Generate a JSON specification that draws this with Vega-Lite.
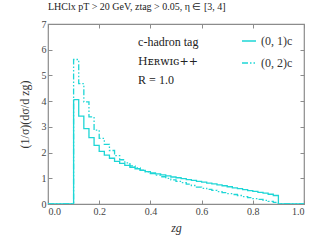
{
  "$schema": "https://vega.github.io/schema/vega-lite/v6.json",
  "width": 256,
  "height": 180,
  "autosize": {"type": "none"},
  "padding": {"left": 48, "top": 24, "right": 16, "bottom": 36},
  "background": "white",
  "title": {"text": "LHClx pT > 20 GeV,  ztag > 0.05,  η ∈ [3, 4]", "anchor": "start", "frame": "group", "font": "Liberation Serif", "fontSize": 10, "fontWeight": "normal", "color": "#222", "offset": 7},
  "config": {
    "view": {"stroke": "#8c8c8c", "strokeWidth": 1.2},
    "axis": {"domain": false, "grid": false, "tickColor": "#8c8c8c", "tickSize": -4, "labelFont": "Liberation Serif", "labelFontSize": 10, "labelColor": "#444", "titleFont": "Liberation Serif", "titleFontWeight": "normal", "titleColor": "#333", "titleFontSize": 12}
  },
  "data": {"values": [
    {"z":0.0,"v":0,"s":"(0, 1)c"},{"z":0.10,"v":4.06,"s":"(0, 1)c"},{"z":0.12,"v":3.42,"s":"(0, 1)c"},{"z":0.14,"v":2.93,"s":"(0, 1)c"},{"z":0.16,"v":2.58,"s":"(0, 1)c"},{"z":0.18,"v":2.28,"s":"(0, 1)c"},{"z":0.20,"v":2.05,"s":"(0, 1)c"},{"z":0.22,"v":1.90,"s":"(0, 1)c"},{"z":0.24,"v":1.78,"s":"(0, 1)c"},{"z":0.26,"v":1.66,"s":"(0, 1)c"},{"z":0.28,"v":1.58,"s":"(0, 1)c"},{"z":0.30,"v":1.50,"s":"(0, 1)c"},{"z":0.32,"v":1.43,"s":"(0, 1)c"},{"z":0.34,"v":1.37,"s":"(0, 1)c"},{"z":0.36,"v":1.31,"s":"(0, 1)c"},{"z":0.38,"v":1.26,"s":"(0, 1)c"},{"z":0.40,"v":1.21,"s":"(0, 1)c"},{"z":0.42,"v":1.17,"s":"(0, 1)c"},{"z":0.44,"v":1.13,"s":"(0, 1)c"},{"z":0.46,"v":1.09,"s":"(0, 1)c"},{"z":0.48,"v":1.05,"s":"(0, 1)c"},{"z":0.50,"v":1.02,"s":"(0, 1)c"},{"z":0.52,"v":0.99,"s":"(0, 1)c"},{"z":0.54,"v":0.95,"s":"(0, 1)c"},{"z":0.56,"v":0.92,"s":"(0, 1)c"},{"z":0.58,"v":0.88,"s":"(0, 1)c"},{"z":0.60,"v":0.85,"s":"(0, 1)c"},{"z":0.62,"v":0.81,"s":"(0, 1)c"},{"z":0.64,"v":0.78,"s":"(0, 1)c"},{"z":0.66,"v":0.74,"s":"(0, 1)c"},{"z":0.68,"v":0.71,"s":"(0, 1)c"},{"z":0.70,"v":0.67,"s":"(0, 1)c"},{"z":0.72,"v":0.63,"s":"(0, 1)c"},{"z":0.74,"v":0.60,"s":"(0, 1)c"},{"z":0.76,"v":0.56,"s":"(0, 1)c"},{"z":0.78,"v":0.52,"s":"(0, 1)c"},{"z":0.80,"v":0.49,"s":"(0, 1)c"},{"z":0.82,"v":0.45,"s":"(0, 1)c"},{"z":0.84,"v":0.42,"s":"(0, 1)c"},{"z":0.86,"v":0.38,"s":"(0, 1)c"},{"z":0.88,"v":0.33,"s":"(0, 1)c"},{"z":0.90,"v":0,"s":"(0, 1)c"},{"z":1.0,"v":0,"s":"(0, 1)c"},
    {"z":0.0,"v":0,"s":"(0, 2)c"},{"z":0.10,"v":5.62,"s":"(0, 2)c"},{"z":0.12,"v":4.68,"s":"(0, 2)c"},{"z":0.14,"v":3.97,"s":"(0, 2)c"},{"z":0.16,"v":3.39,"s":"(0, 2)c"},{"z":0.18,"v":2.87,"s":"(0, 2)c"},{"z":0.20,"v":2.55,"s":"(0, 2)c"},{"z":0.22,"v":2.32,"s":"(0, 2)c"},{"z":0.24,"v":2.08,"s":"(0, 2)c"},{"z":0.26,"v":1.88,"s":"(0, 2)c"},{"z":0.28,"v":1.72,"s":"(0, 2)c"},{"z":0.30,"v":1.60,"s":"(0, 2)c"},{"z":0.32,"v":1.48,"s":"(0, 2)c"},{"z":0.34,"v":1.40,"s":"(0, 2)c"},{"z":0.36,"v":1.32,"s":"(0, 2)c"},{"z":0.38,"v":1.25,"s":"(0, 2)c"},{"z":0.40,"v":1.18,"s":"(0, 2)c"},{"z":0.42,"v":1.12,"s":"(0, 2)c"},{"z":0.44,"v":1.06,"s":"(0, 2)c"},{"z":0.46,"v":1.00,"s":"(0, 2)c"},{"z":0.48,"v":0.94,"s":"(0, 2)c"},{"z":0.50,"v":0.88,"s":"(0, 2)c"},{"z":0.52,"v":0.83,"s":"(0, 2)c"},{"z":0.54,"v":0.77,"s":"(0, 2)c"},{"z":0.56,"v":0.72,"s":"(0, 2)c"},{"z":0.58,"v":0.66,"s":"(0, 2)c"},{"z":0.60,"v":0.61,"s":"(0, 2)c"},{"z":0.62,"v":0.57,"s":"(0, 2)c"},{"z":0.64,"v":0.53,"s":"(0, 2)c"},{"z":0.66,"v":0.48,"s":"(0, 2)c"},{"z":0.68,"v":0.44,"s":"(0, 2)c"},{"z":0.70,"v":0.40,"s":"(0, 2)c"},{"z":0.72,"v":0.37,"s":"(0, 2)c"},{"z":0.74,"v":0.33,"s":"(0, 2)c"},{"z":0.76,"v":0.29,"s":"(0, 2)c"},{"z":0.78,"v":0.25,"s":"(0, 2)c"},{"z":0.80,"v":0.21,"s":"(0, 2)c"},{"z":0.82,"v":0.18,"s":"(0, 2)c"},{"z":0.84,"v":0.14,"s":"(0, 2)c"},{"z":0.86,"v":0.10,"s":"(0, 2)c"},{"z":0.88,"v":0.06,"s":"(0, 2)c"},{"z":0.90,"v":0,"s":"(0, 2)c"},{"z":1.0,"v":0,"s":"(0, 2)c"}
  ]},
  "layer": [
    {
      "mark": {"type": "line", "interpolate": "step-after", "strokeWidth": 1.3, "clip": true},
      "encoding": {
        "x": {"field": "z", "type": "quantitative", "scale": {"domain": [0, 1], "nice": false}, "axis": {"orient": "bottom", "values": [0, 0.2, 0.4, 0.6, 0.8, 1.0], "format": ".1f", "labelPadding": 6, "title": "zg", "titleFontStyle": "italic", "titlePadding": 6}},
        "y": {"field": "v", "type": "quantitative", "scale": {"domain": [0, 7], "nice": false}, "axis": {"orient": "left", "values": [0,1,2,3,4,5,6,7], "labelPadding": 6, "title": "(1/σ)(dσ/d zg)", "titlePadding": 10}},
        "color": {"field": "s", "type": "nominal", "scale": {"range": ["#1ed6d6", "#1ed6d6"]}, "legend": {"orient": "none", "legendX": 193, "legendY": 9, "title": null, "symbolType": "stroke", "symbolSize": 196, "symbolStrokeWidth": 1.6, "labelFont": "Liberation Serif", "labelFontSize": 12, "labelColor": "#333", "rowPadding": 8, "labelOffset": 4}},
        "strokeDash": {"field": "s", "type": "nominal", "scale": {"range": [[1, 0], [6, 2, 1.5, 2, 1.5, 2]]}, "legend": {"orient": "none", "legendX": 193, "legendY": 9, "title": null, "symbolType": "stroke", "symbolSize": 196, "symbolStrokeWidth": 1.6, "labelFont": "Liberation Serif", "labelFontSize": 12, "labelColor": "#333", "rowPadding": 8, "labelOffset": 4}}
      }
    },
    {
      "mark": {"type": "line", "opacity": 0},
      "encoding": {
        "x": {"field": "z", "type": "quantitative", "axis": {"orient": "top", "values": [0, 0.2, 0.4, 0.6, 0.8, 1.0], "labels": false, "title": null}},
        "y": {"field": "v", "type": "quantitative", "axis": {"orient": "right", "values": [0,1,2,3,4,5,6,7], "labels": false, "title": null}}
      }
    },
    {
      "data": {"values": [{}]},
      "mark": {"type": "text", "align": "left", "baseline": "middle", "font": "Liberation Serif", "fontSize": 12, "color": "#222"},
      "encoding": {"x": {"datum": 0.352, "axis": null}, "y": {"datum": 6.29, "axis": null}, "text": {"value": "c-hadron tag"}}
    },
    {
      "data": {"values": [{}]},
      "mark": {"type": "text", "align": "left", "baseline": "middle", "font": "DejaVu Serif", "fontSize": 11, "color": "#222"},
      "encoding": {"x": {"datum": 0.352, "axis": null}, "y": {"datum": 5.51, "axis": null}, "text": {"value": "Hᴇʀᴡɪɢ++"}}
    },
    {
      "data": {"values": [{}]},
      "mark": {"type": "text", "align": "left", "baseline": "middle", "font": "Liberation Serif", "fontSize": 12, "color": "#222"},
      "encoding": {"x": {"datum": 0.352, "axis": null}, "y": {"datum": 4.81, "axis": null}, "text": {"value": "R = 1.0"}}
    }
  ],
  "resolve": {"axis": {"x": "independent", "y": "independent"}}
}
